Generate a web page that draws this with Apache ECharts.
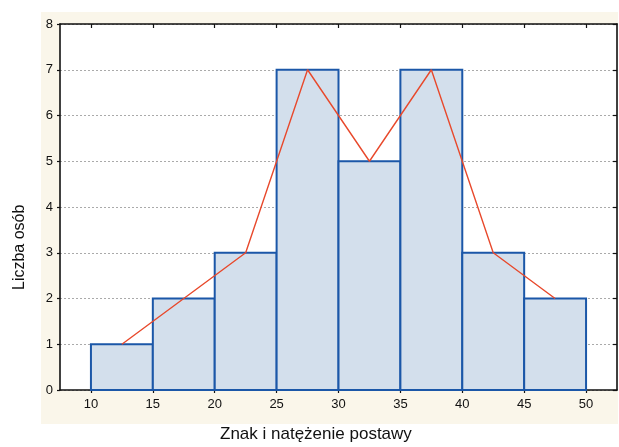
<!DOCTYPE html>
<html>
<head>
<meta charset="utf-8">
<script src="https://cdn.jsdelivr.net/npm/echarts@6/dist/echarts.min.js"></script>
<style>
html,body{margin:0;padding:0;background:#fff;}
#c{width:619px;height:447px;}
</style>
</head>
<body>
<div id="c"></div>
<script>
// Data
var binStart = [10, 15, 20, 25, 30, 35, 40, 45];
var binEnd   = [15, 20, 25, 30, 35, 40, 45, 50];
var counts   = [1, 2, 3, 7, 5, 7, 3, 2];
var midpoints = [12.5, 17.5, 22.5, 27.5, 32.5, 37.5, 42.5, 47.5];
var xTicks = [10, 15, 20, 25, 30, 35, 40, 45, 50];
var yTicks = [0, 1, 2, 3, 4, 5, 6, 7, 8];
var xTitle = 'Znak i natężenie postawy';
var yTitle = 'Liczba osób';

var chart = echarts.init(document.getElementById('c'), null, {renderer: 'canvas'});
var font = 'Liberation Sans, Arial, sans-serif';

var histData = binStart.map(function (s, i) { return [s, binEnd[i], counts[i]]; });
var polyData = midpoints.map(function (m, i) { return [m, counts[i]]; });

var axisLineStyle = {color: '#111', width: 1.6};

var option = {
  animation: false,
  graphic: [
    {type: 'rect', z: -10, silent: true, shape: {x: 41, y: 12, width: 577, height: 412}, style: {fill: '#faf6ea'}},
    {type: 'rect', z: -9, silent: true, shape: {x: 60, y: 24, width: 557, height: 366}, style: {fill: '#ffffff'}},
    {type: 'text', left: 220, top: 426, style: {text: xTitle, font: '17px ' + font, fill: '#111'}},
    {type: 'text', rotation: Math.PI / 2, x: 12, y: 290, style: {text: yTitle, font: '16px ' + font, fill: '#111', textAlign: 'left', textVerticalAlign: 'top'}}
  ],
  grid: {left: 60, top: 24, right: 2, bottom: 57, show: false},
  xAxis: [
    {
      type: 'value', min: 7.5, max: 52.5, position: 'bottom',
      axisLine: {show: true, onZero: false, lineStyle: axisLineStyle},
      axisTick: {show: true, inside: false, length: 3, customValues: xTicks, lineStyle: {color: '#111', width: 1.2}},
      axisLabel: {customValues: xTicks, color: '#111', fontSize: 13, fontFamily: font, margin: 8},
      splitLine: {show: false}
    },
    {
      type: 'value', min: 7.5, max: 52.5, position: 'top',
      axisLine: {show: true, onZero: false, lineStyle: axisLineStyle},
      axisTick: {show: true, inside: true, length: 4, customValues: xTicks, lineStyle: {color: '#111', width: 1.2}},
      axisLabel: {show: false},
      splitLine: {show: false}
    }
  ],
  yAxis: [
    {
      type: 'value', min: 0, max: 8, interval: 1, position: 'left',
      axisLine: {show: true, onZero: false, lineStyle: axisLineStyle},
      axisTick: {show: true, inside: false, length: 3, lineStyle: {color: '#111', width: 1.2}},
      axisLabel: {color: '#111', fontSize: 13, fontFamily: font, margin: 7},
      splitLine: {show: true, lineStyle: {color: '#aaa', type: [2, 2], width: 1}}
    },
    {
      type: 'value', min: 0, max: 8, interval: 1, position: 'right',
      axisLine: {show: true, onZero: false, lineStyle: axisLineStyle},
      axisTick: {show: true, inside: true, length: 4, lineStyle: {color: '#111', width: 1.2}},
      axisLabel: {show: false},
      splitLine: {show: false}
    }
  ],
  series: [
    {
      type: 'custom',
      xAxisIndex: 0, yAxisIndex: 0,
      data: histData,
      renderItem: function (params, api) {
        var p0 = api.coord([api.value(0), api.value(2)]);
        var p1 = api.coord([api.value(1), 0]);
        return {
          type: 'rect',
          shape: {x: p0[0], y: p0[1], width: p1[0] - p0[0], height: p1[1] - p0[1]},
          style: {fill: '#d3dfec', stroke: '#1b57a8', lineWidth: 2}
        };
      },
      z: 2
    },
    {
      type: 'line',
      xAxisIndex: 0, yAxisIndex: 0,
      data: polyData,
      symbol: 'none',
      lineStyle: {color: '#e8492c', width: 1.4},
      z: 3
    }
  ]
};
chart.setOption(option);
</script>
</body>
</html>
